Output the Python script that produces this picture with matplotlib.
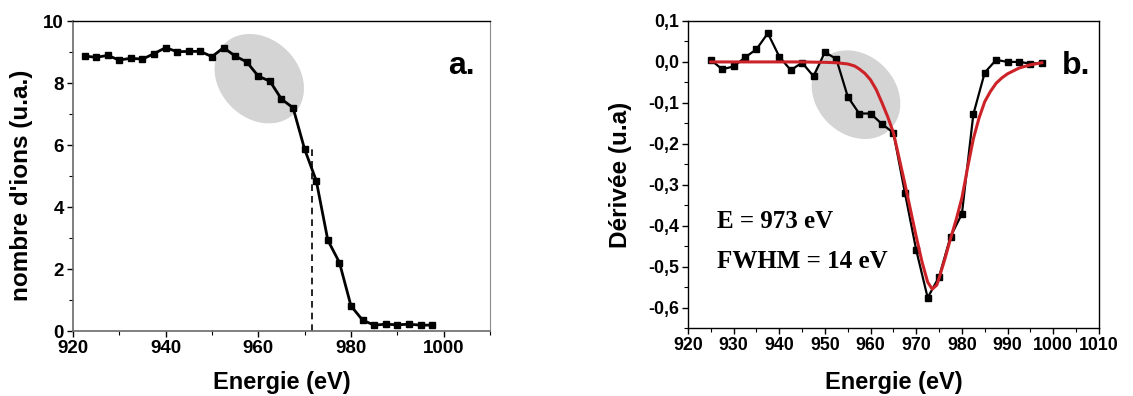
import matplotlib
matplotlib.use("Agg")
import matplotlib.pyplot as plt
from matplotlib.patches import Ellipse
from matplotlib.transforms import Affine2D, ScaledTranslation
from matplotlib.ticker import MultipleLocator, FuncFormatter

# ---------------- data ----------------
energy_a = [922.5, 925, 927.5, 930, 932.5, 935, 937.5, 940, 942.5, 945, 947.5, 950,
            952.5, 955, 957.5, 960, 962.5, 965, 967.5, 970, 972.5, 975, 977.5, 980,
            982.5, 985, 987.5, 990, 992.5, 995, 997.5]
ions_a = [8.87, 8.83, 8.89, 8.74, 8.80, 8.77, 8.95, 9.14, 9.01, 9.02, 9.02, 8.85,
          9.14, 8.87, 8.68, 8.22, 8.06, 7.48, 7.20, 5.86, 4.85, 2.93, 2.21, 0.81,
          0.35, 0.19, 0.22, 0.20, 0.22, 0.19, 0.19]

energy_b = [925, 927.5, 930, 932.5, 935, 937.5, 940, 942.5, 945, 947.5, 950, 952.5,
            955, 957.5, 960, 962.5, 965, 967.5, 970, 972.5, 975, 977.5, 980, 982.5,
            985, 987.5, 990, 992.5, 995, 997.5]
deriv_b = [0.005, -0.018, -0.011, 0.011, 0.031, 0.070, 0.013, -0.020, -0.002, -0.035,
           0.024, 0.007, -0.085, -0.126, -0.126, -0.152, -0.173, -0.319, -0.460, -0.576,
           -0.525, -0.427, -0.371, -0.128, -0.026, 0.005, 0.000, 0.000, -0.004, -0.002]

fit_energy = [925, 935, 945, 950, 952.5, 955, 956.5, 957.5, 958.75, 960, 961.25, 962.5,
              963.75, 965, 966.25, 967.5, 968.75, 970, 971.25, 972.5, 973.5, 974.5, 975,
              976.25, 977.5, 978.75, 980, 981.25, 982.5, 983.75, 985, 986.25, 987.5,
              988.75, 990, 992.5, 995, 997.5]
fit_deriv = [0.000, 0.000, 0.000, -0.001, -0.002, -0.005, -0.010, -0.017, -0.028, -0.044,
             -0.068, -0.100, -0.134, -0.173, -0.235, -0.297, -0.362, -0.427, -0.488, -0.538,
             -0.555, -0.545, -0.528, -0.482, -0.432, -0.385, -0.332, -0.258, -0.188, -0.137,
             -0.097, -0.072, -0.052, -0.039, -0.029, -0.015, -0.007, -0.002]

edge_energy = 971.5
edge_top = 6.0
fit_text = ["E = 973 eV", "FWHM = 14 eV"]

xticks_a = [920, 940, 960, 980, 1000]
yticks_a = [0, 2, 4, 6, 8, 10]
xticks_b = [920, 930, 940, 950, 960, 970, 980, 990, 1000, 1010]
yticks_b = [-0.6, -0.5, -0.4, -0.3, -0.2, -0.1, 0.0, 0.1]

# ---------------- style ----------------
plt.rcParams['font.family'] = ['Liberation Sans', 'DejaVu Sans']
plt.rcParams['font.weight'] = 'bold'

fig = plt.figure(figsize=(11.33, 3.96), dpi=100)
ax1 = fig.add_axes([0.0644, 0.1641, 0.3681, 0.7828])
ax2 = fig.add_axes([0.6072, 0.1717, 0.3627, 0.7753])

ELL_COLOR = '#d4d4d4'


def add_ellipse(ax, cx, cy, w_pt, h_pt, angle):
    tr = Affine2D().scale(fig.dpi / 72.0) + ScaledTranslation(cx, cy, ax.transData)
    e = Ellipse((0, 0), w_pt, h_pt, angle=angle, transform=tr,
                facecolor=ELL_COLOR, edgecolor='none', zorder=1)
    ax.add_patch(e)


def style_ticks(ax, size):
    ax.tick_params(which='major', direction='out', length=4.5, width=1,
                   labelsize=size, pad=2, top=False, right=False)
    ax.tick_params(which='minor', direction='out', length=2.8, width=0.8,
                   top=False, right=False)
    for lab in ax.get_xticklabels() + ax.get_yticklabels():
        lab.set_fontweight('bold')


# ---------------- panel a ----------------
add_ellipse(ax1, 960.2, 8.14, 71, 57, -45)
ax1.plot(energy_a, ions_a, color='black', lw=2, marker='s', ms=4.2,
         markeredgecolor='black', zorder=3)
ax1.vlines(edge_energy, 0, edge_top, colors='black', linestyles=(0, (4, 3)),
           lw=1.2, zorder=2)
ax1.set_xlim(920, 1010)
ax1.set_ylim(0, 10)
ax1.set_xticks(xticks_a)
ax1.set_yticks(yticks_a)
ax1.xaxis.set_minor_locator(MultipleLocator(10))
ax1.yaxis.set_minor_locator(MultipleLocator(1))
style_ticks(ax1, 13.5)
for s in ['left', 'bottom']:
    ax1.spines[s].set_color('#6a6a6a')
    ax1.spines[s].set_linewidth(1.2)
ax1.spines['top'].set_color('black')
ax1.spines['top'].set_linewidth(1.0)
ax1.spines['right'].set_color('#8a8a8a')
ax1.spines['right'].set_linewidth(0.8)
ax1.set_xlabel('Energie (eV)', fontsize=17, fontweight='bold')
ax1.xaxis.set_label_coords(0.5, -0.13)
ax1.set_ylabel("nombre d'ions (u.a.)", fontsize=17.5, fontweight='bold')
ax1.yaxis.set_label_coords(-0.097, 0.47)
ax1.text(1000.9, 8.3, 'a.', fontsize=23, fontweight='bold', ha='left',
         va='baseline', zorder=4)

# ---------------- panel b ----------------
add_ellipse(ax2, 956.8, -0.08, 70, 57, -45)
ax2.plot(energy_b, deriv_b, color='black', lw=1.6, marker='s', ms=4.2,
         markeredgecolor='black', zorder=3)
ax2.plot(fit_energy, fit_deriv, color='#cc2228', lw=2.2, zorder=4)
ax2.set_xlim(920, 1010)
ax2.set_ylim(-0.65, 0.1)
ax2.set_xticks(xticks_b)
ax2.set_yticks(yticks_b)
ax2.xaxis.set_minor_locator(MultipleLocator(5))
ax2.yaxis.set_minor_locator(MultipleLocator(0.05))
ax2.yaxis.set_major_formatter(FuncFormatter(lambda v, p: f"{v:.1f}".replace('.', ',')))
style_ticks(ax2, 12.8)
for s in ax2.spines.values():
    s.set_color('black')
    s.set_linewidth(1.0)
ax2.set_xlabel('Energie (eV)', fontsize=17, fontweight='bold')
ax2.xaxis.set_label_coords(0.5, -0.141)
ax2.set_ylabel('Dérivée (u.a)', fontsize=17.5, fontweight='bold')
ax2.yaxis.set_label_coords(-0.136, 0.5)
ax2.text(1001.8, -0.0295, 'b.', fontsize=23, fontweight='bold', ha='left',
         va='baseline', zorder=5)
serif = ['Liberation Serif', 'DejaVu Serif']
ax2.text(926.3, -0.405, fit_text[0], fontsize=18, fontweight='bold',
         family=serif, ha='left', va='baseline', zorder=5)
ax2.text(926.3, -0.504, fit_text[1], fontsize=18, fontweight='bold',
         family=serif, ha='left', va='baseline', zorder=5)

fig.savefig('out.png', dpi=100)
